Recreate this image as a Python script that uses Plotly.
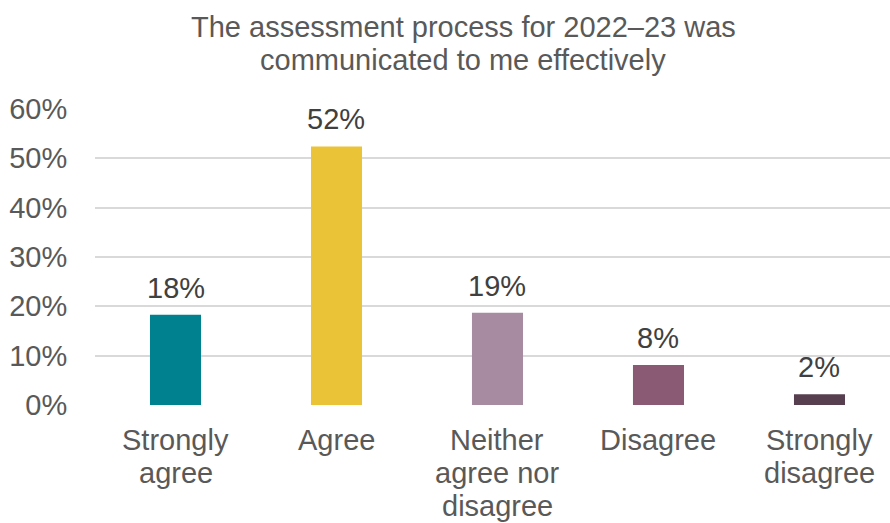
import plotly.graph_objects as go

categories = ["Strongly<br>agree", "Agree", "Neither<br>agree nor<br>disagree", "Disagree", "Strongly<br>disagree"]
shares = [0.183, 0.524, 0.187, 0.081, 0.022]
bar_colors = ["#00818F", "#EBC337", "#A78BA1", "#8A5A74", "#573F4F"]
y_ticks = [0, 0.1, 0.2, 0.3, 0.4, 0.5, 0.6]
y_tick_labels = ["0%", "10%", "20%", "30%", "40%", "50%", "60%"]
title_lines = ["The assessment process for 2022–23 was", "communicated to me effectively"]

font_family = "Liberation Sans, Arial, sans-serif"
positions = list(range(len(categories)))

# plot-area geometry in pixels
W, H = 890, 523
M_L, M_R, M_T, M_B = 95, 0, 109, 118
PLOT_H = H - M_T - M_B
PLOT_W = W - M_L - M_R
LINE_STEP = 33  # spacing between wrapped label lines

fig = go.Figure(
    go.Bar(
        x=positions,
        y=shares,
        marker=dict(color=bar_colors, line=dict(width=0)),
        width=0.317,
        hoverinfo="skip",
    )
)

# value labels above each bar
for xi, v in zip(positions, shares):
    fig.add_annotation(
        x=xi, y=v, xref="x", yref="y",
        text=f"{round(v * 100)}%",
        showarrow=False,
        yanchor="bottom",
        yshift=9,
        font=dict(family=font_family, size=29, color="#404040"),
    )

# category labels under the axis, one line at a time for tight line spacing
for xi, label in zip(positions, categories):
    for k, line in enumerate(label.split("<br>")):
        fig.add_annotation(
            x=xi, y=0, xref="x", yref="y",
            text=line,
            showarrow=False,
            xanchor="center",
            yanchor="middle",
            yshift=-(35 + k * LINE_STEP),
            font=dict(family=font_family, size=29, color="#595959"),
        )

# chart title, two centred lines
for k, line in enumerate(title_lines):
    fig.add_annotation(
        x=(463 - M_L) / PLOT_W,
        y=(H - M_B - (27 + k * 33)) / PLOT_H,
        xref="paper", yref="paper",
        text=line,
        showarrow=False,
        xanchor="center",
        yanchor="middle",
        font=dict(family=font_family, size=29, color="#595959"),
    )

fig.update_layout(
    width=W,
    height=H,
    margin=dict(l=M_L, r=M_R, t=M_T, b=M_B),
    paper_bgcolor="white",
    plot_bgcolor="white",
    showlegend=False,
    xaxis=dict(
        range=[-0.5, 4.438],
        tickmode="array",
        tickvals=positions,
        showticklabels=False,
        showgrid=False,
        zeroline=False,
        showline=False,
        ticks="",
        automargin=False,
    ),
    yaxis=dict(
        range=[0, 0.6],
        tickmode="array",
        tickvals=y_ticks,
        ticktext=y_tick_labels,
        tickfont=dict(family=font_family, size=29, color="#595959"),
        showgrid=True,
        gridcolor="#D9D9D9",
        gridwidth=1.5,
        zeroline=False,
        ticks="outside",
        ticklen=21,
        tickcolor="white",
        automargin=False,
    ),
)

fig.write_html("out.html")
